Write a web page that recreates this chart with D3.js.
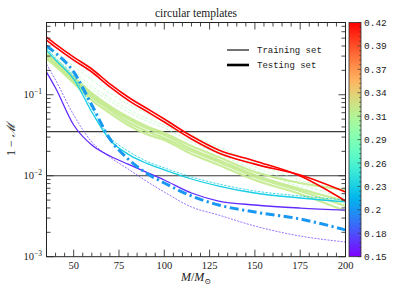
<!DOCTYPE html>
<html>
<head>
<meta charset="utf-8">
<script src="https://cdn.jsdelivr.net/npm/d3@7"></script>
<style>
  body { margin: 0; background: #fff; }
  svg { display: block; }
  .serif { font-family: "Liberation Serif", "DejaVu Serif", serif; }
  .mono { font-family: "Liberation Mono", "DejaVu Sans Mono", monospace; }
</style>
</head>
<body>
<div id="chartbox"></div>
<script>
// total mass grid (M / Msun)
const masses = [35, 40, 50, 60, 70, 80, 90, 100, 115, 130, 150, 175, 200]

// 1 - match
const redA = [0.516, 0.423, 0.292, 0.208, 0.136, 0.0937, 0.0685, 0.0501, 0.0309, 0.0208, 0.0152, 0.00991, 0.00487]
const redB = [0.474, 0.388, 0.268, 0.191, 0.125, 0.086, 0.0629, 0.046, 0.0284, 0.0191, 0.0139, 0.0102, 0.00629]
const paleA = [0.367, 0.327, 0.226, 0.152, 0.105, 0.0768, 0.0594, 0.0474, 0.0318, 0.0226, 0.0143, 0.00885, 0.00666]
const paleB = [0.346, 0.300, 0.196, 0.128, 0.0911, 0.0666, 0.0516, 0.0423, 0.0284, 0.0202, 0.0128, 0.0079, 0.00531]
const paleC = [0.337, 0.284, 0.180, 0.1176, 0.0836, 0.0612, 0.0474, 0.0388, 0.0261, 0.0185, 0.0118, 0.00725, 0.00447]
const greenA = [0.327, 0.268, 0.165, 0.105, 0.0725, 0.0531, 0.0411, 0.0337, 0.0233, 0.0170, 0.0111, 0.00813, 0.00666]
const greenB = [0.309, 0.253, 0.156, 0.0992, 0.0685, 0.0501, 0.0388, 0.0318, 0.0214, 0.0156, 0.0102, 0.00685, 0.00487]
const greenC = [0.292, 0.239, 0.148, 0.0937, 0.0648, 0.046, 0.0356, 0.0292, 0.0202, 0.0148, 0.00964, 0.00648, 0.00423]
const greenD = [0.276, 0.226, 0.139, 0.086, 0.0594, 0.0423, 0.0327, 0.0276, 0.0185, 0.0136, 0.00885, 0.00594, 0.00366]
const cyanA = [0.356, 0.268, 0.156, 0.0612, 0.0276, 0.0185, 0.0143, 0.0118, 0.00911, 0.00746, 0.00612, 0.00531, 0.00474]
const cyanB = [0.377, 0.284, 0.170, 0.0685, 0.030, 0.0202, 0.0152, 0.0125, 0.00964, 0.0079, 0.00648, 0.00562, 0.00501]
const blueTest = [0.399, 0.327, 0.191, 0.0746, 0.0284, 0.0161, 0.0108, 0.00813, 0.00562, 0.00435, 0.00356, 0.00292, 0.00214]
const purpleA = [0.191, 0.121, 0.0423, 0.0239, 0.0175, 0.0139, 0.0111, 0.00885, 0.00612, 0.00487, 0.00435, 0.00399, 0.00377]
const purpleB = [0.239, 0.152, 0.0562, 0.0261, 0.017, 0.0121, 0.0086, 0.00629, 0.00411, 0.00327, 0.00239, 0.0018, 0.00152]

// colour parameter of each group
const paramRed = 0.42
const paramGreen = 0.32
const paramPale = 0.30
const paramCyan = 0.23
const paramBlue = 0.205
const paramPurple = 0.165

const thresholds = [0.035, 0.01]
const xTicks = [50, 75, 100, 125, 150, 175, 200]
const yTicks = [1e-3, 1e-2, 1e-1]
const yTickExp = ['\u22123', '\u22122', '\u22121']
const cbarLabels = ['0.15', '0.18', '0.2', '0.23', '0.26', '0.29', '0.31', '0.34', '0.37', '0.39', '0.42']
const cbarDomain = [0.15, 0.42]
const legendLabels = ['Training set', 'Testing set']

const WIDTH = 411
const HEIGHT = 294
const plot = { left: 46.5, right: 345.5, top: 22.5, bottom: 256.7 }
const cbar = { x: 349, w: 12, top: 22.5, bottom: 256.7 }

const x = d3.scaleLinear().domain([35, 200]).range([plot.left, plot.right])
const y = d3.scaleLog().domain([1e-3, 0.78]).range([plot.bottom, plot.top])

// matplotlib-like "rainbow" map
const clamp01 = v => Math.max(0, Math.min(1, v))
const rainbow = t => d3.rgb(
  255 * clamp01(Math.abs(2 * t - 0.5)),
  255 * clamp01(Math.sin(Math.PI * t)),
  255 * clamp01(Math.cos(Math.PI * t / 2))
).formatHex()
const cnorm = d3.scaleLinear().domain(cbarDomain).range([0, 1]).clamp(true)
const colour = p => rainbow(cnorm(p))

const series = [
  { v: paleA, p: paramPale, w: 0.9, dash: '3,1.6', op: 0.6 },
  { v: paleB, p: paramPale, w: 0.9, dash: '3,1.6', op: 0.6 },
  { v: paleC, p: paramPale, w: 0.9, dash: '3,1.6', op: 0.6 },
  { v: greenA, p: paramGreen, w: 2.2, dash: null, op: 0.9 },
  { v: greenB, p: paramGreen, w: 2.2, dash: null, op: 0.9 },
  { v: greenC, p: paramGreen, w: 2.2, dash: null, op: 0.9 },
  { v: greenD, p: paramGreen, w: 2.2, dash: null, op: 0.9 },
  { v: purpleB, p: paramPurple, w: 0.8, dash: '2,1.3', op: 0.85 },
  { v: purpleA, p: paramPurple, w: 1.3, dash: null, op: 1 },
  { v: cyanB, p: paramCyan, w: 0.9, dash: '2.5,1.3', op: 0.9 },
  { v: cyanA, p: paramCyan, w: 1.3, dash: null, op: 1 },
  { v: blueTest, p: paramBlue, w: 3, dash: '9,3.5,2.2,3.5', op: 1 },
  { v: redB, p: paramRed, w: 1.6, dash: null, op: 1 },
  { v: redA, p: paramRed, w: 1.6, dash: null, op: 1 },
]

const svg = d3.select('#chartbox')
  .append('svg')
  .attr('width', WIDTH)
  .attr('height', HEIGHT)

svg.append('clipPath').attr('id', 'clip')
  .append('rect')
  .attr('x', plot.left).attr('y', plot.top)
  .attr('width', plot.right - plot.left).attr('height', plot.bottom - plot.top)

const inner = svg.append('g').attr('clip-path', 'url(#clip)')

inner.selectAll('line.thr')
  .data(thresholds)
  .enter()
  .append('line')
  .attr('class', 'thr')
  .attr('x1', plot.left).attr('x2', plot.right)
  .attr('y1', d => y(d)).attr('y2', d => y(d))
  .attr('stroke', '#3a3a3a')
  .attr('stroke-width', 1.1)

const line = d3.line()
  .x((d, i) => x(masses[i]))
  .y(d => y(d))
  .curve(d3.curveMonotoneX)

inner.selectAll('path.curve')
  .data(series)
  .enter()
  .append('path')
  .attr('class', 'curve')
  .attr('d', d => line(d.v))
  .attr('fill', 'none')
  .attr('stroke', d => colour(d.p))
  .attr('stroke-width', d => d.w)
  .attr('stroke-dasharray', d => d.dash)
  .attr('stroke-opacity', d => d.op)
  .attr('stroke-linejoin', 'round')

// ticks, all pointing inwards
const tickCol = '#333'
const ticks = svg.append('g').attr('stroke', tickCol).attr('stroke-width', 0.9)

const xMinor = d3.range(40, 200, 5).filter(m => m % 25 !== 0)
const xAll = xTicks.map(t => ({ t, len: 7 })).concat(xMinor.map(t => ({ t, len: 4 })))
xAll.forEach(d => {
  ticks.append('line').attr('x1', x(d.t)).attr('x2', x(d.t))
    .attr('y1', plot.bottom).attr('y2', plot.bottom - d.len)
  ticks.append('line').attr('x1', x(d.t)).attr('x2', x(d.t))
    .attr('y1', plot.top).attr('y2', plot.top + d.len)
})

const yMinor = []
yTicks.forEach(base => d3.range(2, 10).forEach(k => { if (k * base < 0.78) yMinor.push(k * base) }))
const yAll = yTicks.map(t => ({ t, len: 7 })).concat(yMinor.map(t => ({ t, len: 4 })))
yAll.forEach(d => {
  ticks.append('line').attr('y1', y(d.t)).attr('y2', y(d.t))
    .attr('x1', plot.left).attr('x2', plot.left + d.len)
  ticks.append('line').attr('y1', y(d.t)).attr('y2', y(d.t))
    .attr('x1', plot.right).attr('x2', plot.right - d.len)
})

svg.append('rect')
  .attr('x', plot.left).attr('y', plot.top)
  .attr('width', plot.right - plot.left).attr('height', plot.bottom - plot.top)
  .attr('fill', 'none')
  .attr('stroke', '#222')
  .attr('stroke-width', 1)

// tick labels
svg.append('g').attr('class', 'serif')
  .selectAll('text')
  .data(xTicks)
  .enter()
  .append('text')
  .attr('x', d => x(d))
  .attr('y', plot.bottom + 12)
  .attr('text-anchor', 'middle')
  .attr('font-size', 10.5)
  .attr('fill', '#222')
  .text(d => d)

const yl = svg.append('g').attr('class', 'serif')
  .selectAll('text')
  .data(yTicks)
  .enter()
  .append('text')
  .attr('x', 42)
  .attr('y', d => y(d) + 3.5)
  .attr('text-anchor', 'end')
  .attr('font-size', 10.5)
  .attr('fill', '#222')
yl.append('tspan').text('10')
yl.append('tspan')
  .attr('font-size', 7.5)
  .attr('dy', -4.5)
  .text((d, i) => yTickExp[i])

// axis titles
svg.append('text')
  .attr('class', 'serif')
  .attr('x', (plot.left + plot.right) / 2)
  .attr('y', 17)
  .attr('text-anchor', 'middle')
  .attr('font-size', 11.5)
  .attr('fill', '#222')
  .text('circular templates')

const xl = svg.append('text')
  .attr('class', 'serif')
  .attr('x', (plot.left + plot.right) / 2)
  .attr('y', 281)
  .attr('text-anchor', 'middle')
  .attr('font-size', 12)
  .attr('fill', '#222')
xl.append('tspan').attr('font-style', 'italic').text('M')
xl.append('tspan').text('/')
xl.append('tspan').attr('font-style', 'italic').text('M')
xl.append('tspan').attr('font-size', 8).attr('dy', 3).text('\u2299')

const ylab = svg.append('text')
  .attr('class', 'serif')
  .attr('transform', `translate(15,${(plot.top + plot.bottom) / 2}) rotate(-90)`)
  .attr('text-anchor', 'middle')
  .attr('font-size', 12)
  .attr('fill', '#222')
ylab.append('tspan').text('1 \u2212 ')
ylab.append('tspan').attr('font-style', 'italic').text('\u2133')

// legend
const legend = svg.append('g')
legendLabels.forEach((lab, i) => {
  const ly = 50 + i * 15
  legend.append('line')
    .attr('x1', 227).attr('x2', 249)
    .attr('y1', ly).attr('y2', ly)
    .attr('stroke', '#000')
    .attr('stroke-width', i === 0 ? 1.1 : 2.6)
  legend.append('text')
    .attr('class', 'mono')
    .attr('x', 257).attr('y', ly + 3)
    .attr('font-size', 9)
    .attr('fill', '#222')
    .text(lab)
})

// colour bar
const cy = d3.scaleLinear().domain(cbarDomain).range([cbar.bottom, cbar.top])
const grad = svg.append('defs').append('linearGradient')
  .attr('id', 'cbgrad')
  .attr('x1', 0).attr('x2', 0).attr('y1', 1).attr('y2', 0)
grad.selectAll('stop')
  .data(d3.range(0, 1.0001, 0.02))
  .enter()
  .append('stop')
  .attr('offset', d => d)
  .attr('stop-color', d => rainbow(d))

svg.append('rect')
  .attr('x', cbar.x).attr('y', cbar.top)
  .attr('width', cbar.w).attr('height', cbar.bottom - cbar.top)
  .attr('fill', 'url(#cbgrad)')
  .attr('stroke', '#333')
  .attr('stroke-width', 0.8)

const cbTickVals = d3.range(cbarLabels.length).map(i => cbarDomain[0] + i * (cbarDomain[1] - cbarDomain[0]) / (cbarLabels.length - 1))
const cbMinor = d3.range(0, (cbarLabels.length - 1) * 5 + 1).map(i => cbarDomain[0] + i * (cbarDomain[1] - cbarDomain[0]) / ((cbarLabels.length - 1) * 5))
svg.append('g').attr('stroke', '#333').attr('stroke-width', 0.7)
  .selectAll('line')
  .data(cbMinor)
  .enter()
  .append('line')
  .attr('x1', cbar.x + cbar.w).attr('x2', (d, i) => cbar.x + cbar.w - (i % 5 === 0 ? 3.5 : 1.8))
  .attr('y1', d => cy(d)).attr('y2', d => cy(d))

svg.append('g').attr('class', 'mono')
  .selectAll('text')
  .data(cbTickVals)
  .enter()
  .append('text')
  .attr('x', cbar.x + cbar.w + 3)
  .attr('y', d => cy(d) + 3.5)
  .attr('font-size', 9.5)
  .attr('fill', '#222')
  .text((d, i) => cbarLabels[i])
</script>
</body>
</html>
